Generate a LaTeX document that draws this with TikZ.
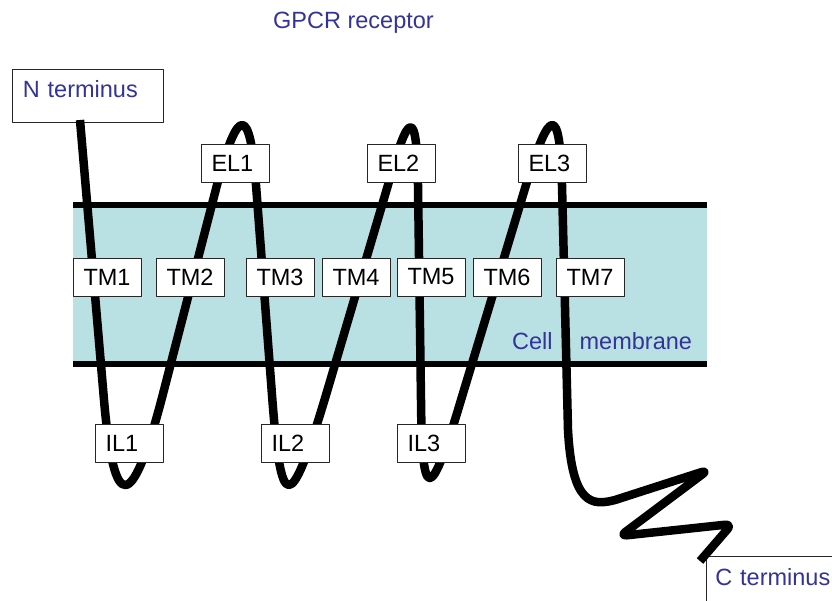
\documentclass[tikz,border=0pt]{standalone}
\usepackage{fontspec}
\setmainfont{Liberation Sans}
\definecolor{gpcrblue}{RGB}{51,51,153}
\definecolor{membr}{RGB}{185,224,227}
\begin{document}
\begin{tikzpicture}[x=1pt,y=-1pt,line join=round,font=\fontsize{23.5pt}{28pt}\selectfont,
	box/.style={draw=black!85,line width=0.8pt,fill=white,minimum width=68pt,minimum height=38pt,inner ysep=0pt,inner xsep=10.5pt,text width=47pt,align=left},
	tbox/.style={draw=black!85,line width=0.8pt,fill=white,inner xsep=10.5pt,text width=130pt,align=left,text=gpcrblue,anchor=north west,text height=17pt},
	strand/.style={line width=8.5pt}]
	\def\mleft{73}\def\mright{707}\def\mtop{205}\def\mbot{364}
	\useasboundingbox (0,0) rectangle (832,600);
	\fill[membr] (\mleft,\mtop) rectangle (\mright,\mbot);
	\draw[line width=5.5pt] (\mleft,\mtop)--(\mright,\mtop) (\mleft,\mbot)--(\mright,\mbot);
	\node[tbox,text depth=14pt,inner ysep=11pt] (nterm) at (12,69) {N terminus};
	\node[tbox,text depth=5pt,inner ysep=12pt,inner xsep=9pt] (cterm) at (706,556) {C terminus};
	\coordinate (nstart) at (80,120); \coordinate (cend) at (700,561);
	\draw[strand] (nstart)--(104,400) .. controls (114,515) and (132,515) .. (164,390)
		--(217,185) .. controls (238,105) and (250,105) .. (256,185)
		--(272,395) .. controls (281,515) and (290,515) .. (326,395)
		--(388,185) .. controls (409,108) and (417,108) .. (418,185)
		--(421,400) .. controls (422,504) and (430,504) .. (461,400)
		--(526,185) .. controls (550,105) and (560,105) .. (562,185)
		--(568,430) .. controls (572,505) and (592,506) .. (615,500)
		[rounded corners=7pt] --(708,470)--(620,536)--(732,524)--(cend);
	\node[box] (el1) at (235,163) {EL1}; \node[box] (el2) at (401,163) {EL2}; \node[box] (el3) at (552,163) {EL3};
	\node[box] (tm1) at (107,277) {TM1}; \node[box] (tm2) at (190,277) {TM2}; \node[box] (tm3) at (280,277) {TM3};
	\node[box] (tm4) at (356,277) {TM4}; \node[box] (tm5) at (431,277) {TM5}; \node[box] (tm6) at (507,277) {TM6};
	\node[box] (tm7) at (590,277) {TM7};
	\node[box] (il1) at (129,443) {IL1}; \node[box] (il2) at (295,443) {IL2}; \node[box] (il3) at (431,443) {IL3};
	\node[anchor=base west,inner sep=0pt,text=gpcrblue] (title) at (273,28) {GPCR receptor};
	\node[anchor=base west,inner sep=0pt,text=gpcrblue] (cellm) at (512,349) {Cell\hspace{27pt}membrane};
\end{tikzpicture}
\end{document}
